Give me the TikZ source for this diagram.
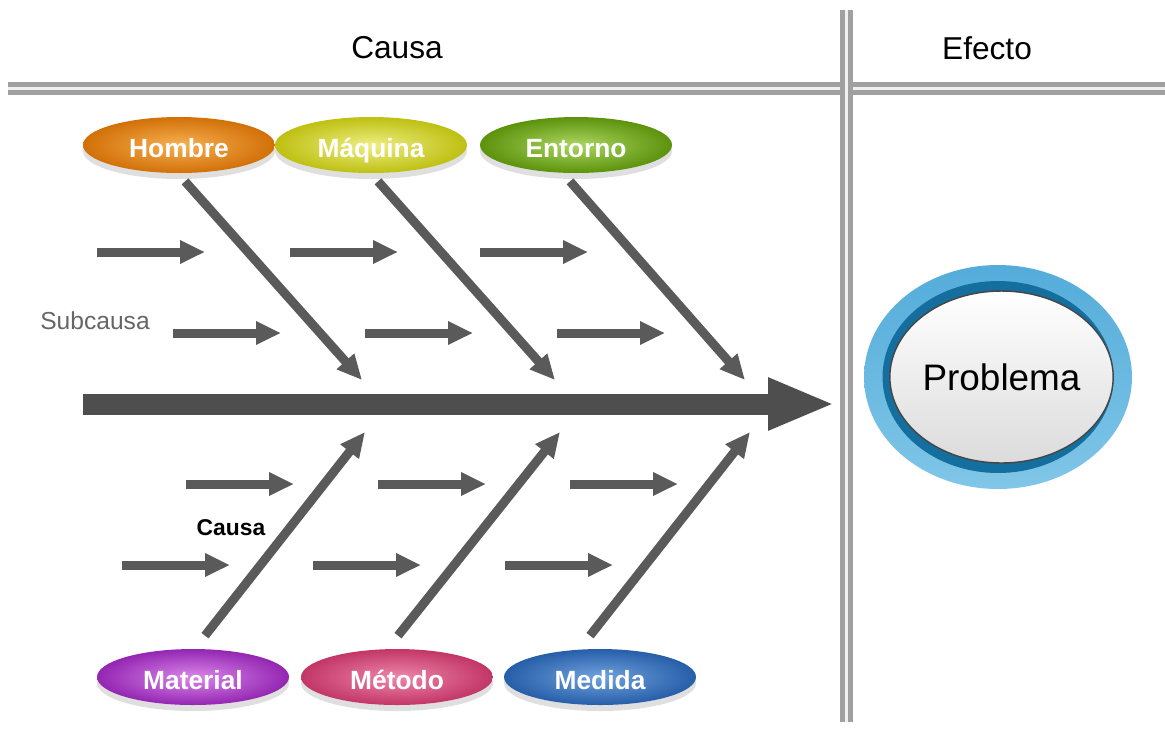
\documentclass[tikz,border=0pt]{standalone}
\usepackage{fontspec}
\setmainfont{Liberation Sans}
\usepackage{tikz}
\usetikzlibrary{arrows.meta,shapes.geometric,shadows}
\definecolor{hombreorange}{RGB}{210, 112, 8}
\definecolor{hombrelight}{RGB}{246, 176, 80}
\definecolor{maquinayellow}{RGB}{190, 192, 18}
\definecolor{maquinalight}{RGB}{238, 238, 130}
\definecolor{entornogreen}{RGB}{92, 146, 12}
\definecolor{entornolight}{RGB}{172, 214, 96}
\definecolor{materialpurple}{RGB}{148, 38, 178}
\definecolor{materiallight}{RGB}{218, 134, 234}
\definecolor{metodopink}{RGB}{194, 54, 102}
\definecolor{metodolight}{RGB}{238, 134, 170}
\definecolor{medidablue}{RGB}{38, 94, 168}
\definecolor{medidalight}{RGB}{112, 162, 222}
\definecolor{ringlight}{RGB}{84, 172, 218}
\definecolor{ringlow}{RGB}{128, 198, 232}
\definecolor{ringdark}{RGB}{20, 110, 158}
\definecolor{bonegray}{RGB}{90, 90, 90}
\definecolor{spinegray}{RGB}{78, 78, 78}
\definecolor{railgray}{RGB}{160, 160, 160}

\begin{document}
\begin{tikzpicture}[x=0.02cm, y=-0.02cm,
    cause/.style={ellipse, minimum width=3.84cm, minimum height=1.12cm, inner sep=0pt,
      text height=15pt, text depth=1pt,
      text=white, font=\bfseries\fontsize{15}{18}\selectfont,
      drop shadow={shadow xshift=0pt, shadow yshift=-0.12cm, opacity=0.25}},
    bone/.style={-{Triangle[length=0.5cm, width=0.44cm]}, bonegray, line width=0.18cm},
    spine/.style={-{Triangle[length=1.34cm, width=0.96cm]}, spinegray, line width=0.42cm},
    rail/.style={draw=railgray, line width=0.26cm,
      postaction={draw=gray!12, line width=0.06cm}},
    headtext/.style={font=\fontsize{18}{21}\selectfont}]
  \useasboundingbox (0,0) rectangle (1165,728);
  % rails
  \coordinate (rail-l) at (8,88);
  \coordinate (rail-r) at (1165,88);
  \coordinate (rail-t) at (846,10);
  \coordinate (rail-b) at (846,722);
  \draw[rail] (rail-l) -- (rail-r);
  \draw[rail] (rail-t) -- (rail-b);
  \node[headtext] (causa-title) at (397,48) {Causa};
  \node[headtext] (efecto-title) at (987,48) {Efecto};
  % spine
  \coordinate (tail) at (83,404);
  \coordinate (head) at (835,404);
  \draw[spine] (tail) -- (head);
  % top causes
  \node[cause, inner color=hombrelight, outer color=hombreorange] (hombre) at (179,145) {Hombre};
  \node[cause, inner color=maquinalight, outer color=maquinayellow] (maquina) at (371,145) {Máquina};
  \node[cause, inner color=entornolight, outer color=entornogreen] (entorno) at (576,145) {Entorno};
  \coordinate (hombre-end) at (362,380);
  \coordinate (maquina-end) at (555,380);
  \coordinate (entorno-end) at (745,380);
  \draw[bone] ([shift={(6,8)}]hombre.south) -- (hombre-end);
  \draw[bone] ([shift={(7,8)}]maquina.south) -- (maquina-end);
  \draw[bone] ([shift={(-6,8)}]entorno.south) -- (entorno-end);
  % bottom causes
  \node[cause, inner color=materiallight, outer color=materialpurple] (material) at (193,677) {Material};
  \node[cause, inner color=metodolight, outer color=metodopink] (metodo) at (397,677) {Método};
  \node[cause, inner color=medidalight, outer color=medidablue] (medida) at (600,677) {Medida};
  \coordinate (material-end) at (365,432);
  \coordinate (metodo-end) at (560,432);
  \coordinate (medida-end) at (750,432);
  \draw[bone] ([shift={(12,-13)}]material.north) -- (material-end);
  \draw[bone] ([shift={(1,-13)}]metodo.north) -- (metodo-end);
  \draw[bone] ([shift={(-10,-13)}]medida.north) -- (medida-end);
  % subcauses
  \foreach \x/\y [count=\i] in {97/252, 290/252, 480/252, 173/333, 365/333, 557/333,
      186/484, 378/484, 570/484, 122/565, 313/565, 505/565} {
    \coordinate (sub\i-a) at (\x,\y);
    \coordinate (sub\i-b) at (\x+108,\y);
    \draw[bone] (sub\i-a) -- (sub\i-b);
  }
  \node[text=gray!80!black, font=\fontsize{14}{16}\selectfont] (subcausa) at (95,321) {Subcausa};
  \node[font=\bfseries\fontsize{13}{15}\selectfont] (causa) at (231,528) {Causa};
  % problem
  \node[ellipse, minimum width=5.36cm, minimum height=4.48cm, inner sep=0pt,
    top color=ringlight, bottom color=ringlow] (ring) at (998,377) {};
  \node[ellipse, minimum width=4.62cm, minimum height=3.84cm, inner sep=0pt,
    fill=ringdark] (ring-inner) at (ring) {};
  \node[ellipse, minimum width=4.1cm, minimum height=3.44cm, inner sep=0pt,
    top color=white, bottom color=gray!28, draw=gray!55!black, line width=0.8pt,
    font=\fontsize{21}{24}\selectfont] (problema) at ([xshift=2]ring) {Problema};
\end{tikzpicture}
\end{document}
